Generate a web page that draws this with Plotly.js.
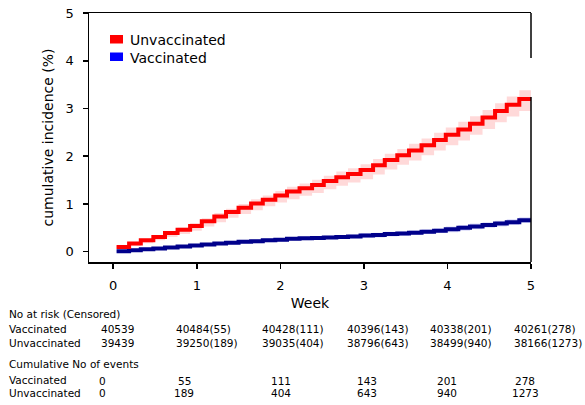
<!DOCTYPE html>
<html>
<head>
<meta charset="utf-8">
<script src="https://cdn.plot.ly/plotly-3.0.1.min.js"></script>
<style>html,body{margin:0;padding:0;background:#fff;}#chart{width:585px;height:405px;}</style>
</head>
<body>
<div id="chart"></div>
<script>
// ---- data ----
const weeks = [0.04,0.19,0.33,0.48,0.62,0.77,0.92,1.06,1.21,1.35,1.50,1.65,1.79,1.94,2.08,2.23,2.38,2.52,2.67,2.81,2.96,3.11,3.25,3.40,3.54,3.69,3.84,3.98,4.13,4.27,4.42,4.57,4.71,4.86,5.00];

const unvacc   = [0.10,0.17,0.24,0.31,0.39,0.46,0.54,0.64,0.74,0.83,0.92,1.01,1.09,1.18,1.26,1.33,1.40,1.48,1.56,1.63,1.71,1.81,1.92,2.02,2.12,2.23,2.34,2.45,2.56,2.68,2.81,2.95,3.08,3.20,3.20];
const unvaccLo = [0.07,0.12,0.18,0.24,0.31,0.37,0.44,0.53,0.62,0.71,0.79,0.87,0.95,1.03,1.10,1.17,1.23,1.31,1.38,1.45,1.52,1.62,1.72,1.82,1.91,2.02,2.12,2.23,2.33,2.45,2.57,2.71,2.83,2.95,2.95];
const unvaccHi = [0.12,0.19,0.27,0.35,0.43,0.51,0.60,0.70,0.81,0.90,1.00,1.10,1.18,1.27,1.36,1.43,1.51,1.59,1.68,1.75,1.83,1.94,2.05,2.15,2.26,2.37,2.49,2.60,2.72,2.84,2.97,3.11,3.25,3.38,3.38];

const vacc   = [0.01,0.03,0.05,0.07,0.09,0.11,0.13,0.15,0.17,0.19,0.21,0.22,0.24,0.25,0.27,0.28,0.29,0.30,0.31,0.32,0.34,0.35,0.37,0.38,0.40,0.42,0.44,0.47,0.50,0.53,0.56,0.59,0.62,0.66,0.66];
const vaccLo = [0.00,0.01,0.03,0.05,0.06,0.08,0.10,0.12,0.14,0.15,0.17,0.18,0.20,0.21,0.23,0.24,0.25,0.26,0.27,0.28,0.29,0.30,0.32,0.33,0.35,0.37,0.39,0.41,0.44,0.47,0.50,0.53,0.56,0.60,0.60];
const vaccHi = [0.02,0.05,0.07,0.09,0.12,0.14,0.16,0.18,0.20,0.23,0.25,0.26,0.28,0.29,0.31,0.32,0.33,0.34,0.35,0.36,0.39,0.40,0.42,0.43,0.45,0.47,0.49,0.53,0.56,0.59,0.62,0.65,0.68,0.72,0.72];

const xTicks = [0,1,2,3,4,5];
const yTicks = [0,1,2,3,4,5];

const groups = ["Vaccinated","Unvaccinated"];
const atRiskVacc   = [40539,40484,40428,40396,40338,40261];
const censVacc     = [null,55,111,143,201,278];
const atRiskUnvacc = [39439,39250,39035,38796,38499,38166];
const censUnvacc   = [null,189,404,643,940,1273];
const eventsVacc   = [0,55,111,143,201,278];
const eventsUnvacc = [0,189,404,643,940,1273];

// ---- layout helpers (pixel -> paper) ----
const L = 89, R = 531, T = 13, B = 262;
const PX = p => (p - L) / (R - L);
const PY = p => (B - p) / (B - T);
const FONT = "DejaVu Sans, Liberation Sans, sans-serif";

const traces = [
  {x: weeks, y: unvaccLo, type:'scatter', mode:'lines', line:{width:0, shape:'hv'}, hoverinfo:'skip', showlegend:false},
  {x: weeks, y: unvaccHi, type:'scatter', mode:'lines', line:{width:0, shape:'hv'}, fill:'tonexty', fillcolor:'rgba(255,0,0,0.15)', hoverinfo:'skip', showlegend:false},
  {x: weeks, y: vaccLo, type:'scatter', mode:'lines', line:{width:0, shape:'hv'}, hoverinfo:'skip', showlegend:false},
  {x: weeks, y: vaccHi, type:'scatter', mode:'lines', line:{width:0, shape:'hv'}, fill:'tonexty', fillcolor:'rgba(0,0,220,0.14)', hoverinfo:'skip', showlegend:false},
  {x: weeks, y: vacc, type:'scatter', mode:'lines', name:'Vaccinated', line:{color:'#00008b', width:4, shape:'hv'}, showlegend:false},
  {x: weeks, y: unvacc, type:'scatter', mode:'lines', name:'Unvaccinated', line:{color:'#ff0000', width:4, shape:'hv'}, showlegend:false}
];

const ann = [];
const shapes = [];
function txt(text, x, y, anchor, size){
  ann.push({text: text, xref:'paper', yref:'paper', x: PX(x), y: PY(y), xanchor: anchor, yanchor:'middle',
            showarrow:false, font:{family:FONT, size:size, color:'#000'}, borderpad:0});
}
// legend
shapes.push({type:'rect', xref:'paper', yref:'paper', x0:PX(110), x1:PX(123), y0:PY(35), y1:PY(43.5), fillcolor:'#ff0000', line:{width:0}});
shapes.push({type:'rect', xref:'paper', yref:'paper', x0:PX(110), x1:PX(123), y0:PY(52.5), y1:PY(61), fillcolor:'#0000ff', line:{width:0}});
txt('Unvaccinated', 129, 40, 'left', 14);
txt('Vaccinated', 129, 57.5, 'left', 14);

// right spine (partially drawn in the reference)
shapes.push({type:'line', xref:'paper', yref:'y', x0:1, x1:1, y0:5, y1:4.06, line:{color:'#000', width:1.5}});
shapes.push({type:'line', xref:'paper', yref:'paper', x0:1, x1:1, y0:PY(97), y1:0, line:{color:'#000', width:1.5}});

// table
const FS = 10.5;
const riskCols = [100,175,261,346,429,513];
const eventCols = [102,184,281,367,447,525];
txt('No at risk (Censored)', 8, 314, 'left', FS);
txt(groups[0], 8, 329, 'left', FS);
txt(groups[1], 8, 343, 'left', FS);
for (let i = 0; i < riskCols.length; i++){
  txt(String(atRiskVacc[i]) + (censVacc[i] === null ? '' : '(' + censVacc[i] + ')'), riskCols[i], 329, 'left', FS);
  txt(String(atRiskUnvacc[i]) + (censUnvacc[i] === null ? '' : '(' + censUnvacc[i] + ')'), riskCols[i], 343, 'left', FS);
}
txt('Cumulative No of events', 8, 364, 'left', FS);
txt(groups[0], 8, 380, 'left', FS);
txt(groups[1], 8, 393, 'left', FS);
for (let i = 0; i < eventCols.length; i++){
  txt(String(eventsVacc[i]), eventCols[i], 381, 'center', FS);
  txt(String(eventsUnvacc[i]), eventCols[i], 393, 'center', FS);
}

const axisCommon = {
  showline:true, linecolor:'#000', linewidth:1.5, ticks:'outside', ticklen:5, tickwidth:1.5, tickcolor:'#000',
  showgrid:false, zeroline:false, tickfont:{family:FONT, size:13, color:'#000'}
};

const layout = {
  width:585, height:405,
  margin:{l:L, r:585-R, t:T, b:405-B, pad:0},
  paper_bgcolor:'#fff', plot_bgcolor:'#fff',
  showlegend:false,
  xaxis: Object.assign({}, axisCommon, {range:[-0.29,5], tickvals:xTicks, mirror:true, ticklabelstandoff:6,
          title:{text:'Week', font:{family:FONT, size:14, color:'#000'}, standoff:6}}),
  yaxis: Object.assign({}, axisCommon, {range:[-0.215,5], tickvals:yTicks, ticklabelstandoff:6,
          title:{text:'cumulative incidence (%)', font:{family:FONT, size:14, color:'#000'}, standoff:8}}),
  annotations: ann,
  shapes: shapes
};

Plotly.newPlot('chart', traces, layout, {staticPlot:true, displayModeBar:false});
</script>
</body>
</html>
